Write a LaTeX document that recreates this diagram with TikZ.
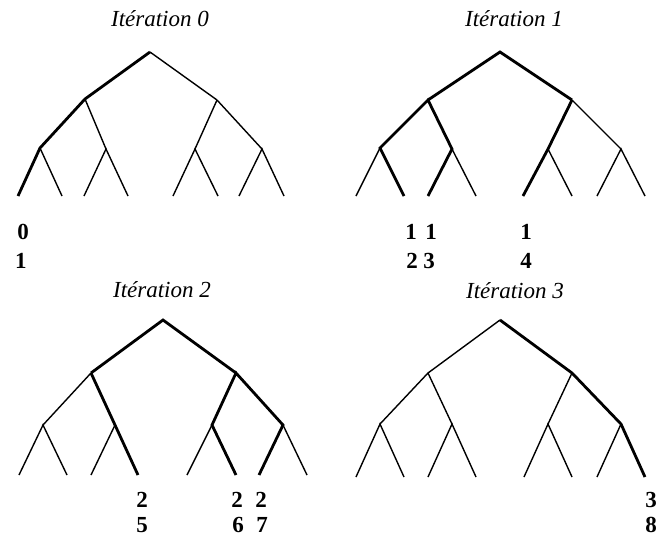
\documentclass[tikz,border=0pt]{standalone}
\usepackage{fontspec}
\setmainfont{Liberation Serif}
\begin{document}
\begin{tikzpicture}[x=1pt,y=-1pt,
  thin edge/.style={line width=1.4pt},
  thick edge/.style={line width=2.8pt},
  ttl/.style={font=\fontsize{23}{23}\selectfont\itshape, inner sep=0pt},
  num/.style={font=\fontsize{23}{23}\selectfont\bfseries, inner sep=0pt}]
\useasboundingbox (0,0) rectangle (659,539);
% ---------- Tree 0 ----------
\coordinate (Ar) at (150,52);
\coordinate (Aa) at (85,99);   \coordinate (Ab) at (217,100);
\coordinate (Aaa) at (40,148); \coordinate (Aab) at (106,149);
\coordinate (Aba) at (195,149);\coordinate (Abb) at (262,149);
\coordinate (Al0) at (18,196); \coordinate (Al1) at (62,196);
\coordinate (Al2) at (84,196); \coordinate (Al3) at (128,196);
\coordinate (Al4) at (173,196);\coordinate (Al5) at (218,196);
\coordinate (Al6) at (239,196);\coordinate (Al7) at (284,196);
\draw[thick edge] (Al0) -- (Aaa) -- (Aa) -- (Ar);
\draw[thin edge] (Ar) -- (Ab);
\draw[thin edge] (Aa) -- (Aab);
\draw[thin edge] (Aaa) -- (Al1);
\draw[thin edge] (Al2) -- (Aab) -- (Al3);
\draw[thin edge] (Ab) -- (Aba); \draw[thin edge] (Ab) -- (Abb);
\draw[thin edge] (Al4) -- (Aba) -- (Al5);
\draw[thin edge] (Al6) -- (Abb) -- (Al7);
\node[ttl] (At) at (160,19) {Itération 0};
\node[num] (An1) at (23,232) {0};
\node[num] (An2) at (21,261) {1};
% ---------- Tree 1 ----------
\coordinate (Br) at (500,52);
\coordinate (Ba) at (428,100);  \coordinate (Bb) at (572,100);
\coordinate (Baa) at (380,148); \coordinate (Bab) at (452,149);
\coordinate (Bba) at (548,149); \coordinate (Bbb) at (621,149);
\coordinate (Bl0) at (356,196); \coordinate (Bl1) at (404,196);
\coordinate (Bl2) at (428,196); \coordinate (Bl3) at (476,196);
\coordinate (Bl4) at (523,196); \coordinate (Bl5) at (572,196);
\coordinate (Bl6) at (597,196); \coordinate (Bl7) at (645,196);
\draw[thick edge] (Ba) -- (Br) -- (Bb);
\draw[thick edge] (Bl1) -- (Baa) -- (Ba) -- (Bab) -- (Bl2);
\draw[thick edge] (Bb) -- (Bba) -- (Bl4);
\draw[thin edge] (Baa) -- (Bl0);
\draw[thin edge] (Bab) -- (Bl3);
\draw[thin edge] (Bba) -- (Bl5);
\draw[thin edge] (Bb) -- (Bbb);
\draw[thin edge] (Bl6) -- (Bbb) -- (Bl7);
\node[ttl] (Bt) at (514,19) {Itération 1};
\node[num] (Bn1) at (411,232) {1};
\node[num] (Bn2) at (431,232) {1};
\node[num] (Bn3) at (412,261) {2};
\node[num] (Bn4) at (429,261) {3};
\node[num] (Bn5) at (526,232) {1};
\node[num] (Bn6) at (526,261) {4};
% ---------- Tree 2 ----------
\coordinate (Cr) at (163,320);
\coordinate (Ca) at (91,373);   \coordinate (Cb) at (236,373);
\coordinate (Caa) at (43,425);  \coordinate (Cab) at (115,425);
\coordinate (Cba) at (212,425); \coordinate (Cbb) at (283,425);
\coordinate (Cl0) at (19,475);  \coordinate (Cl1) at (67,475);
\coordinate (Cl2) at (91,475);  \coordinate (Cl3) at (138,475);
\coordinate (Cl4) at (187,475); \coordinate (Cl5) at (236,475);
\coordinate (Cl6) at (259,475); \coordinate (Cl7) at (307,475);
\draw[thick edge] (Ca) -- (Cr) -- (Cb);
\draw[thick edge] (Ca) -- (Cab) -- (Cl3);
\draw[thick edge] (Cl5) -- (Cba) -- (Cb) -- (Cbb) -- (Cl6);
\draw[thin edge] (Ca) -- (Caa);
\draw[thin edge] (Cl0) -- (Caa) -- (Cl1);
\draw[thin edge] (Cl2) -- (Cab);
\draw[thin edge] (Cl4) -- (Cba);
\draw[thin edge] (Cbb) -- (Cl7);
\node[ttl] (Ct) at (162,290) {Itération 2};
\node[num] (Cn1) at (142,500) {2};
\node[num] (Cn2) at (142,525) {5};
\node[num] (Cn3) at (237,500) {2};
\node[num] (Cn4) at (238,525) {6};
\node[num] (Cn5) at (261,500) {2};
\node[num] (Cn6) at (262,525) {7};
% ---------- Tree 3 ----------
\coordinate (Dr) at (500,320);
\coordinate (Da) at (428,373);  \coordinate (Db) at (572,373);
\coordinate (Daa) at (380,424); \coordinate (Dab) at (452,424);
\coordinate (Dba) at (548,424); \coordinate (Dbb) at (621,424);
\coordinate (Dl0) at (356,477); \coordinate (Dl1) at (404,477);
\coordinate (Dl2) at (428,477); \coordinate (Dl3) at (476,477);
\coordinate (Dl4) at (524,477); \coordinate (Dl5) at (572,477);
\coordinate (Dl6) at (597,477); \coordinate (Dl7) at (645,477);
\draw[thick edge] (Dr) -- (Db) -- (Dbb) -- (Dl7);
\draw[thin edge] (Dr) -- (Da);
\draw[thin edge] (Daa) -- (Da) -- (Dab);
\draw[thin edge] (Dl0) -- (Daa) -- (Dl1);
\draw[thin edge] (Dl2) -- (Dab) -- (Dl3);
\draw[thin edge] (Db) -- (Dba);
\draw[thin edge] (Dl4) -- (Dba) -- (Dl5);
\draw[thin edge] (Dl6) -- (Dbb);
\node[ttl] (Dt) at (515,291) {Itération 3};
\node[num] (Dn1) at (651,500) {3};
\node[num] (Dn2) at (651,525) {8};
\end{tikzpicture}
\end{document}
